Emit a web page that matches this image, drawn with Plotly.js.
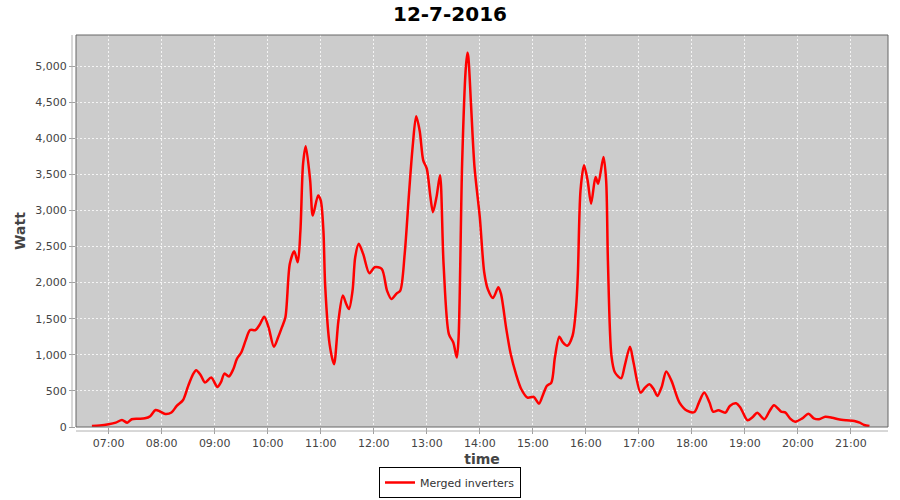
<!DOCTYPE html>
<html>
<head>
<meta charset="utf-8">
<script src="https://cdn.plot.ly/plotly-3.0.1.min.js"></script>
<style>html,body{margin:0;padding:0;background:#fff;}#chart{width:900px;height:500px;}</style>
</head>
<body>
<div id="chart"></div>
<script>
const day = '2016-07-12';
const times = ['06:41','06:50','07:00','07:08','07:15','07:21','07:26','07:33','07:41','07:47','07:53','07:58','08:04','08:11','08:17','08:24','08:30','08:35','08:39','08:44','08:49','08:56','09:03','09:07','09:11','09:16','09:21','09:25','09:30','09:35','09:40','09:46','09:51','09:56','10:01','10:07','10:12','10:16','10:20','10:25','10:30','10:34','10:37','10:40','10:43','10:48','10:51','10:57','11:00','11:03','11:05','11:10','11:15','11:20','11:25','11:29','11:32','11:36','11:39','11:43','11:48','11:55','12:01','12:09','12:15','12:20','12:26','12:30','12:35','12:40','12:44','12:48','12:52','12:56','13:00','13:04','13:07','13:11','13:15','13:19','13:25','13:30','13:34','13:36','13:40','13:44','13:46','13:47','13:50','13:54','14:00','14:05','14:09','14:15','14:21','14:24','14:30','14:35','14:41','14:47','14:54','15:01','15:07','15:11','15:16','15:21','15:25','15:30','15:34','15:39','15:45','15:49','15:51','15:54','15:58','16:02','16:06','16:11','16:14','16:20','16:23','16:25','16:29','16:33','16:40','16:44','16:50','16:54','17:02','17:07','17:12','17:17','17:21','17:26','17:31','17:37','17:46','17:55','18:03','18:08','18:14','18:20','18:24','18:30','18:38','18:43','18:50','18:55','19:03','19:09','19:14','19:22','19:28','19:33','19:41','19:46','19:51','19:57','20:05','20:12','20:18','20:24','20:31','20:39','20:46','20:55','21:04','21:10','21:15','21:21'];
const watts = [15,20,37,60,97,60,107,115,120,150,236,215,180,200,292,370,570,720,787,720,616,685,555,620,740,700,800,940,1032,1200,1343,1343,1420,1528,1380,1111,1250,1380,1520,2260,2435,2282,2722,3648,3889,3417,2930,3208,3139,2722,1958,1148,870,1472,1820,1700,1634,1889,2352,2537,2398,2130,2213,2190,1889,1773,1851,1889,2398,3254,3880,4305,4100,3694,3579,3200,2976,3185,3486,2260,1287,1171,963,1240,3648,4944,5185,5130,4482,3602,2907,2143,1912,1787,1935,1843,1357,1010,732,523,407,417,324,430,570,616,963,1250,1171,1125,1264,1657,2120,3278,3625,3417,3093,3463,3370,3741,3417,2306,986,755,676,847,1111,894,477,546,593,520,430,560,769,639,338,222,208,338,477,338,213,231,199,292,329,268,93,139,199,107,222,301,213,199,120,74,120,185,120,107,143,129,107,93,83,60,28,14];
const seriesName = 'Merged inverters';
const chartTitle = '12-7-2016';
const xTitle = 'time';
const yTitle = 'Watt';

const x = times.map(t => day + ' ' + t + ':00');
const font = 'DejaVu Sans, sans-serif';

const trace = {
  x: x, y: watts, type: 'scatter', mode: 'lines', name: seriesName,
  line: {color: '#ff0000', width: 2.5, shape: 'spline', smoothing: 0.8}
};

const pw = 812, ph = 392;
const layout = {
  width: 900, height: 500,
  margin: {l: 76, r: 12, t: 35, b: 73},
  paper_bgcolor: '#ffffff', plot_bgcolor: '#cccccc',
  title: {text: chartTitle, x: 0.5, xanchor: 'center', y: 0.972, yanchor: 'middle',
          font: {family: font, size: 20, weight: 'bold', color: '#000'}},
  showlegend: true,
  legend: {orientation: 'h', xref: 'container', yref: 'container', x: 0.5, xanchor: 'center', y: 0.004, yanchor: 'bottom',
           bordercolor: '#000', borderwidth: 1, bgcolor: '#fff', itemwidth: 30, tracegroupgap: 0,
           font: {family: font, size: 11, color: '#333'}},
  xaxis: {type: 'date', range: [day + ' 06:23:00', day + ' 21:42:00'],
          dtick: 3600000, tick0: day + ' 07:00:00', tickformat: '%H:%M',
          showgrid: true, gridcolor: '#f4f4f4', griddash: '2px,2px', gridwidth: 1,
          zeroline: false, showline: false, ticks: 'outside', ticklen: 6, tickcolor: '#a0a0a0',
          tickfont: {family: font, size: 11, color: '#444'},
          title: {text: xTitle, standoff: 4, font: {family: font, size: 14, weight: 'bold', color: '#444'}}},
  yaxis: {range: [0, 5430], dtick: 500, tickformat: ',d',
          showgrid: true, gridcolor: '#f4f4f4', griddash: '2px,2px', gridwidth: 1,
          zeroline: false, showline: false, ticks: 'outside', ticklen: 6, tickcolor: '#a0a0a0',
          tickfont: {family: font, size: 11, color: '#444'},
          title: {text: yTitle, standoff: 6, font: {family: font, size: 14, weight: 'bold', color: '#444'}}},
  shapes: [
    {type: 'rect', xref: 'paper', yref: 'paper', x0: 0, x1: 1, y0: 0, y1: 1, line: {color: '#666', width: 1}, layer: 'above'},
    {type: 'line', xref: 'paper', yref: 'paper', x0: -4/pw, x1: -4/pw, y0: 0, y1: 1, line: {color: '#b0b0b0', width: 1}},
    {type: 'line', xref: 'paper', yref: 'paper', x0: 0, x1: 1, y0: -4/ph, y1: -4/ph, line: {color: '#b0b0b0', width: 1}}
  ]
};

Plotly.newPlot('chart', [trace], layout, {displayModeBar: false, staticPlot: true});
</script>
</body>
</html>
